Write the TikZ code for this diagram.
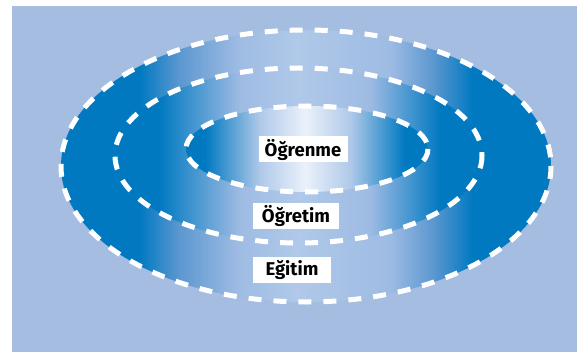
\documentclass[tikz,border=0pt]{standalone}
\usepackage{fontspec}
\setmainfont{Fira Sans}

\definecolor{bgblue}{HTML}{A4BDE1}
\definecolor{deep}{HTML}{0079C1}
\definecolor{midblue}{HTML}{5B97D0}
\definecolor{light}{HTML}{9EBBE3}
\definecolor{pale}{HTML}{B0C9E9}
\definecolor{glow}{HTML}{EAF1FA}

% Horizontal blends: deep blue at the sides, pale towards the middle.
% The path's bounding box spans 25bp..75bp of each shading.
\pgfdeclarehorizontalshading{outershade}{100bp}{color(0bp)=(deep); color(33bp)=(deep); color(37bp)=(midblue); color(43bp)=(light); color(49bp)=(pale); color(58.6bp)=(light); color(63bp)=(midblue); color(67bp)=(deep); color(100bp)=(deep)}
\pgfdeclarehorizontalshading{middleshade}{100bp}{color(0bp)=(deep); color(31bp)=(deep); color(42bp)=(light); color(50bp)=(pale); color(59.7bp)=(light); color(69.3bp)=(deep); color(100bp)=(deep)}
\pgfdeclarehorizontalshading{innershade}{100bp}{color(0bp)=(deep); color(28.9bp)=(deep); color(40.3bp)=(pale); color(49.6bp)=(glow); color(58.9bp)=(pale); color(70.2bp)=(deep); color(100bp)=(deep)}

\tikzset{
  ringline/.style={draw=white, line width=5pt, dash pattern=on 13pt off 12pt},
  tag/.style={fill=white, inner sep=0pt, minimum height=26pt,
    font=\fontsize{18.5}{20}\selectfont\bfseries, text=black},
}

\begin{document}
\begin{tikzpicture}[x=1pt, y=-1pt]
  \useasboundingbox (0,0) rectangle (585,352);
  \fill[white] (0,0) rectangle (585,352);
  \fill[bgblue] (12,6) rectangle (577,352);

  % three nested rings, outermost first
  \shade[shading=outershade] (306,166) ellipse [x radius=245, y radius=136];
  \shade[shading=middleshade] (298.5,155.5) ellipse [x radius=183.5, y radius=87.5];
  \shade[shading=innershade] (307,149) ellipse [x radius=121, y radius=43];

  \draw[ringline] (306,166) ellipse [x radius=245, y radius=136];
  \draw[ringline] (298.5,155.5) ellipse [x radius=183.5, y radius=87.5];
  \draw[ringline] (307,149) ellipse [x radius=121, y radius=43];

  % ring labels
  \node[tag, minimum width=89pt] (ogrenme) at (303,149.5) {Öğrenme};
  \node[tag, minimum width=86pt] (ogretim) at (296,216) {Öğretim};
  \node[tag, minimum width=78pt] (egitim) at (292,270) {Eğitim};
\end{tikzpicture}
\end{document}
